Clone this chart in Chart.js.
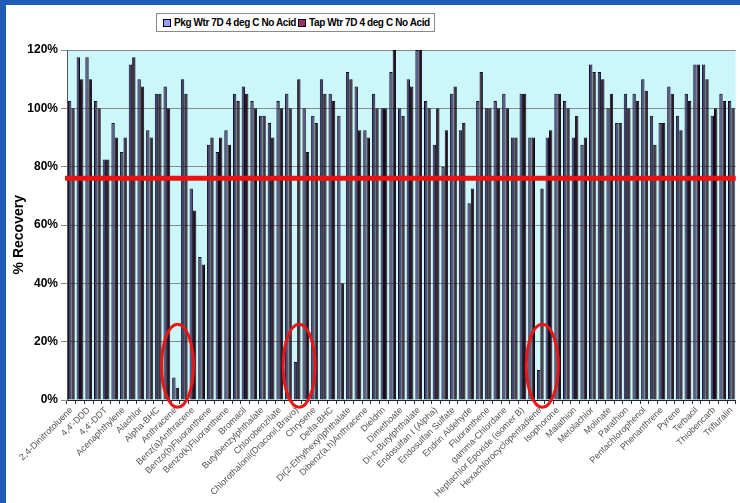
<!DOCTYPE html>
<html>
<head>
<meta charset="utf-8">
<script src="https://cdn.jsdelivr.net/npm/chart.js@4.4.1/dist/chart.umd.min.js"></script>
<style>
  html, body { margin: 0; padding: 0; }
  body { width: 740px; height: 503px; background: #1f5cb5; position: relative; overflow: hidden; }
  #panel { position: absolute; left: 6px; top: 5px; width: 734px; height: 498px; background: #fff; overflow: hidden; }
  #chart { position: absolute; left: 0; top: 0; }
  #legend {
    position: absolute; left: 150px; top: 8px; height: 17px;
    border: 1px solid #8a8a8a; background: #fff; padding: 0 4px;
    font: bold 10px "Liberation Sans", Arial, sans-serif; letter-spacing: -0.4px; color: #000;
    display: flex; align-items: center; white-space: nowrap;
  }
  #legend .sw { display: inline-block; width: 6px; height: 6px; border: 1px solid #000; margin: 0 3px 0 2px; }
</style>
</head>
<body>
<div id="panel">
  <div id="legend"></div>
  <canvas id="chart" width="734" height="498"></canvas>
</div>
<script>
// ── DATA ───────────────────────────────────────────────────────
// only every other compound is labelled on the axis, the skipped ones stay blank
const compounds = [
  "2,4-Dinitrotoluene", "", "4,4'-DDD", "", "4,4'-DDT", "", "Acenaphthylene", "",
  "Alachlor", "", "Alpha-BHC", "", "Anthracene", "", "Benz(a)Anthracene", "",
  "Benzo(b)Fluoranthene", "", "Benzo(k)Fluoranthene", "", "Bromacil", "",
  "Butylbenzylphthalate", "", "Chlorobenzilate", "", "Chlorothalonil(Draconil,Bravo)", "",
  "Chrysene", "", "Delta-BHC", "", "Di(2-Ethylhexyl)phthalate", "",
  "Dibenz(a,h)Anthracene", "", "Dieldrin", "", "Dimethoate", "",
  "Di-n-Butylphthalate", "", "Endosulfan I (Alpha)", "", "Endosulfan Sulfate", "",
  "Endrin Aldehyde", "", "Fluoranthene", "", "gamma-Chlordane", "",
  "Heptachlor Epoxide (isomer B)", "", "Hexachlorocyclopentadiene", "",
  "Isophorone", "", "Malathion", "", "Metolachlor", "", "Molinate", "",
  "Parathion", "", "Pentachlorophenol", "", "Phenanthrene", "", "Pyrene", "",
  "Terbacil", "", "Thiobencarb", "", "Trifluralin"
];

const seriesNames = ["Pkg Wtr 7D 4 deg C No Acid", "Tap Wtr 7D 4 deg C No Acid"];

const pkgWtr = [
  102.5, 117.5, 117.5, 102.5, 82.5, 95, 85, 115, 110, 92.5, 105, 107.5, 7.7, 110, 72.5, 49,
  87.5, 85, 92.5, 105, 107.5, 102.5, 97.5, 95, 102.5, 105, 13, 100, 97.5, 110, 105, 97.5,
  112.5, 107.5, 92.5, 105, 100, 112.5, 100, 110, 120, 102.5, 87.5, 80, 105, 92.5, 67.5, 102.5,
  100, 102.5, 105, 90, 105, 90, 10.3, 90, 105, 102.5, 90, 87.5, 115, 112.5, 100, 95,
  105, 105, 110, 97.5, 95, 107.5, 97.5, 105, 115, 115, 97.5, 105, 102.5
];

const tapWtr = [
  100, 110, 110, 100, 82.5, 90, 90, 117.5, 107.5, 90, 105, 100, 4.2, 105, 65, 46.5,
  90, 90, 87.5, 102.5, 105, 100, 97.5, 90, 100, 100, 110, 85, 95, 105, 102.5, 40,
  110, 92.5, 90, 100, 100, 120, 97.5, 107.5, 120, 100, 100, 92.5, 107.5, 95, 72.5, 112.5,
  100, 100, 100, 90, 105, 90, 72.5, 92.5, 105, 100, 97.5, 90, 112.5, 110, 105, 95,
  100, 102.5, 106, 87.5, 95, 105, 92.5, 102.5, 115, 110, 100, 102.5, 100
];

const yTicks = [0, 20, 40, 60, 80, 100, 120];
const targetRecovery = 76;             // red acceptance line
const circledCompounds = [12, 26, 54]; // indexes of the low-recovery ones ringed in red

// legend swatches vs. the bar fills (thin bars read much darker in the original)
const legendColors = ["#9999ff", "#993366"];
const barColors    = ["#46417c", "#2c0f22"];

// ── LEGEND (html box above the plot) ───────────────────────────
document.getElementById("legend").innerHTML = seriesNames.map((n, i) =>
  `<span class="sw" style="background:${legendColors[i]}"></span>${n}`
).join("");

// ── PLUGINS ────────────────────────────────────────────────────
const plotBg = {
  id: "plotBg",
  beforeDraw(chart) {
    const { ctx, chartArea: a } = chart;
    ctx.save();
    ctx.fillStyle = "#ccf7fa";
    ctx.fillRect(a.left, a.top, a.right - a.left, a.bottom - a.top);
    ctx.restore();
  }
};

const marks = {
  id: "marks",
  afterDatasetsDraw(chart) {
    const { ctx, chartArea: a, scales: { x, y } } = chart;
    ctx.save();
    // target line
    const ty = y.getPixelForValue(targetRecovery);
    ctx.strokeStyle = "#ee1111";
    ctx.lineWidth = 5;
    ctx.beginPath();
    ctx.moveTo(a.left - 2, ty);
    ctx.lineTo(a.right, ty);
    ctx.stroke();

    // red rings round the failed compounds
    ctx.strokeStyle = "#e41818";
    ctx.lineWidth = 3;
    circledCompounds.forEach(i => {
      const cx = x.getPixelForValue(i) + 2;
      const top = y.getPixelForValue(26);
      const bot = y.getPixelForValue(-2.5);
      ctx.beginPath();
      ctx.ellipse(cx, (top + bot) / 2, 16, (bot - top) / 2, 0, 0, Math.PI * 2);
      ctx.stroke();
    });
    ctx.restore();
  }
};

// ── CHART ──────────────────────────────────────────────────────
const font = "'Liberation Sans', Arial, sans-serif";

new Chart(document.getElementById("chart").getContext("2d"), {
  type: "bar",
  data: {
    labels: compounds,
    datasets: [
      { label: seriesNames[0], data: pkgWtr, backgroundColor: barColors[0], borderColor: "#100c14", borderWidth: 1 },
      { label: seriesNames[1], data: tapWtr, backgroundColor: barColors[1], borderColor: "#100c14", borderWidth: 1 },
    ],
  },
  options: {
    responsive: false,
    animation: false,
    events: [],
    layout: { padding: { top: 45, right: 0, left: 0, bottom: 0 } },
    datasets: { bar: { categoryPercentage: 0.78, barPercentage: 1.0 } },
    plugins: { legend: { display: false }, tooltip: { enabled: false } },
    scales: {
      x: {
        grid: { offset: true, drawOnChartArea: false, tickLength: 4, color: "#333" },
        border: { color: "#222", width: 1 },
        ticks: {
          autoSkip: false, minRotation: 45, maxRotation: 45, padding: 1,
          color: "#505050", font: { family: font, size: 9 },
        },
        afterFit: s => { s.height = 103; },
      },
      y: {
        min: 0, max: 120,
        afterBuildTicks: s => { s.ticks = yTicks.map(v => ({ value: v })); },
        grid: { color: "#8a8a8a", tickLength: 6 },
        border: { color: "#555" },
        ticks: {
          padding: 3, color: "#000",
          font: { family: font, size: 12, weight: "bold" },
          callback: v => v + "%",
        },
        title: {
          // trailing nbsp nudges the title a bit lower, like the original
          display: true, text: "% Recovery\u00a0\u00a0\u00a0\u00a0\u00a0", color: "#000",
          padding: { top: 5, bottom: 0 },
          font: { family: font, size: 14, weight: "bold" },
        },
        afterFit: s => { s.width = 61; },
      },
    },
  },
  plugins: [plotBg, marks],
});
</script>
</body>
</html>
